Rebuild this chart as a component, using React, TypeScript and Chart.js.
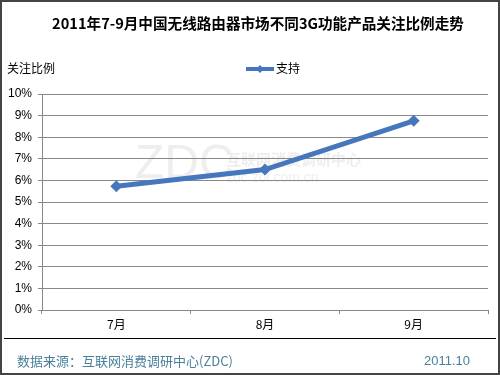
import React, { useEffect, useRef } from "react";
import { Chart, registerables } from "chart.js";

Chart.register(...registerables);

const title = "2011年7-9月中国无线路由器市场不同3G功能产品关注比例走势";
const yAxisTitle = "关注比例";
const categories = ["7月", "8月", "9月"];
const seriesName = "支持";
const seriesValues = [5.73, 6.5, 8.76];
const footerSource = "数据来源：互联网消费调研中心(ZDC)";
const footerDate = "2011.10";

const LINE_COLOR = "#4677bd";
const FONT = "'Liberation Sans', Arial, 'Noto Sans CJK SC', sans-serif";
const CJK = "'Noto Sans CJK SC', 'Liberation Sans', sans-serif";

const decor = {
  id: "decor",
  beforeDraw(chart: any) {
    const ctx = chart.ctx;
    ctx.save();
    ctx.fillStyle = "#ffffff";
    ctx.fillRect(0, 0, chart.width, chart.height);
    // watermark
    ctx.fillStyle = "rgba(200,200,200,0.3)";
    ctx.font = "48px 'Liberation Sans', sans-serif";
    ctx.textBaseline = "middle";
    ctx.textAlign = "left";
    ctx.fillText("ZDC", 135, 165);
    ctx.font = "bold 15px " + CJK;
    ctx.fillText("互联网消费调研中心", 226, 159);
    ctx.font = "14px 'Liberation Sans', sans-serif";
    ctx.fillText("zdc.zol.com.cn", 226, 178);
    ctx.restore();
  },
  afterDraw(chart: any) {
    const ctx = chart.ctx;
    ctx.save();
    // title
    ctx.fillStyle = "#000";
    ctx.font = "bold 14.6px " + CJK;
    ctx.textAlign = "center";
    ctx.textBaseline = "middle";
    ctx.fillText(title, 258, 23);
    // y axis title
    ctx.font = "12px " + CJK;
    ctx.textAlign = "left";
    ctx.fillText(yAxisTitle, 7, 68);
    // legend
    ctx.strokeStyle = LINE_COLOR;
    ctx.lineWidth = 4;
    ctx.beginPath();
    ctx.moveTo(246, 69);
    ctx.lineTo(274, 69);
    ctx.stroke();
    ctx.fillStyle = LINE_COLOR;
    ctx.beginPath();
    ctx.moveTo(260, 65);
    ctx.lineTo(264, 69);
    ctx.lineTo(260, 73);
    ctx.lineTo(256, 69);
    ctx.closePath();
    ctx.fill();
    ctx.fillStyle = "#000";
    ctx.fillText(seriesName, 276, 68);
    // separator
    ctx.strokeStyle = "#000";
    ctx.lineWidth = 1;
    ctx.beginPath();
    ctx.moveTo(4, 338.5);
    ctx.lineTo(496, 338.5);
    ctx.stroke();
    // footer
    ctx.fillStyle = "#4a7f9c";
    ctx.font = "13px " + CJK;
    ctx.fillText(footerSource, 17, 361);
    ctx.font = "13px 'Liberation Sans', sans-serif";
    ctx.fillText(footerDate, 424, 361);
    // border
    ctx.strokeStyle = "#444";
    ctx.lineWidth = 2;
    ctx.strokeRect(1, 1, chart.width - 2, chart.height - 2);
    ctx.restore();
  },
};

export default function App() {
  const ref = useRef<HTMLCanvasElement>(null);
  useEffect(() => {
    document.body.style.margin = "0";
    const chart = new Chart(ref.current!, {
      type: "line",
      data: {
        labels: categories,
        datasets: [
          {
            label: seriesName,
            data: seriesValues,
            borderColor: LINE_COLOR,
            backgroundColor: LINE_COLOR,
            borderWidth: 5,
            pointStyle: "rectRot",
            pointRadius: 6,
            pointBorderWidth: 0,
            tension: 0,
          },
        ],
      },
      options: {
        animation: false,
        responsive: false,
        devicePixelRatio: 1,
        layout: { padding: { left: 0, top: 94, right: 12, bottom: 35 } },
        plugins: {
          legend: { display: false },
          title: { display: false },
          tooltip: { enabled: false },
        },
        scales: {
          x: {
            offset: true,
            grid: {
              offset: true,
              drawOnChartArea: false,
              drawTicks: true,
              tickLength: 4,
              color: "#888",
            },
            border: { color: "#888", width: 1 },
            ticks: { color: "#000", font: { size: 12, family: CJK }, padding: 3 },
            afterFit(scale: any) {
              scale.height = 30;
            },
          },
          y: {
            min: 0,
            max: 10,
            ticks: {
              stepSize: 1,
              color: "#000",
              font: { size: 12, family: FONT },
              padding: 6,
              callback: (v: any) => v + "%",
            },
            grid: { color: "#888", tickLength: 4, lineWidth: 1 },
            border: { color: "#888", width: 1 },
            afterFit(scale: any) {
              scale.width = 42;
            },
          },
        },
      },
      plugins: [decor],
    });
    return () => chart.destroy();
  }, []);
  return (
    <div style={{ position: "absolute", left: 0, top: 0, width: 500, height: 375 }}>
      <canvas ref={ref} width={500} height={375} style={{ width: 500, height: 375, display: "block" }} />
    </div>
  );
}
